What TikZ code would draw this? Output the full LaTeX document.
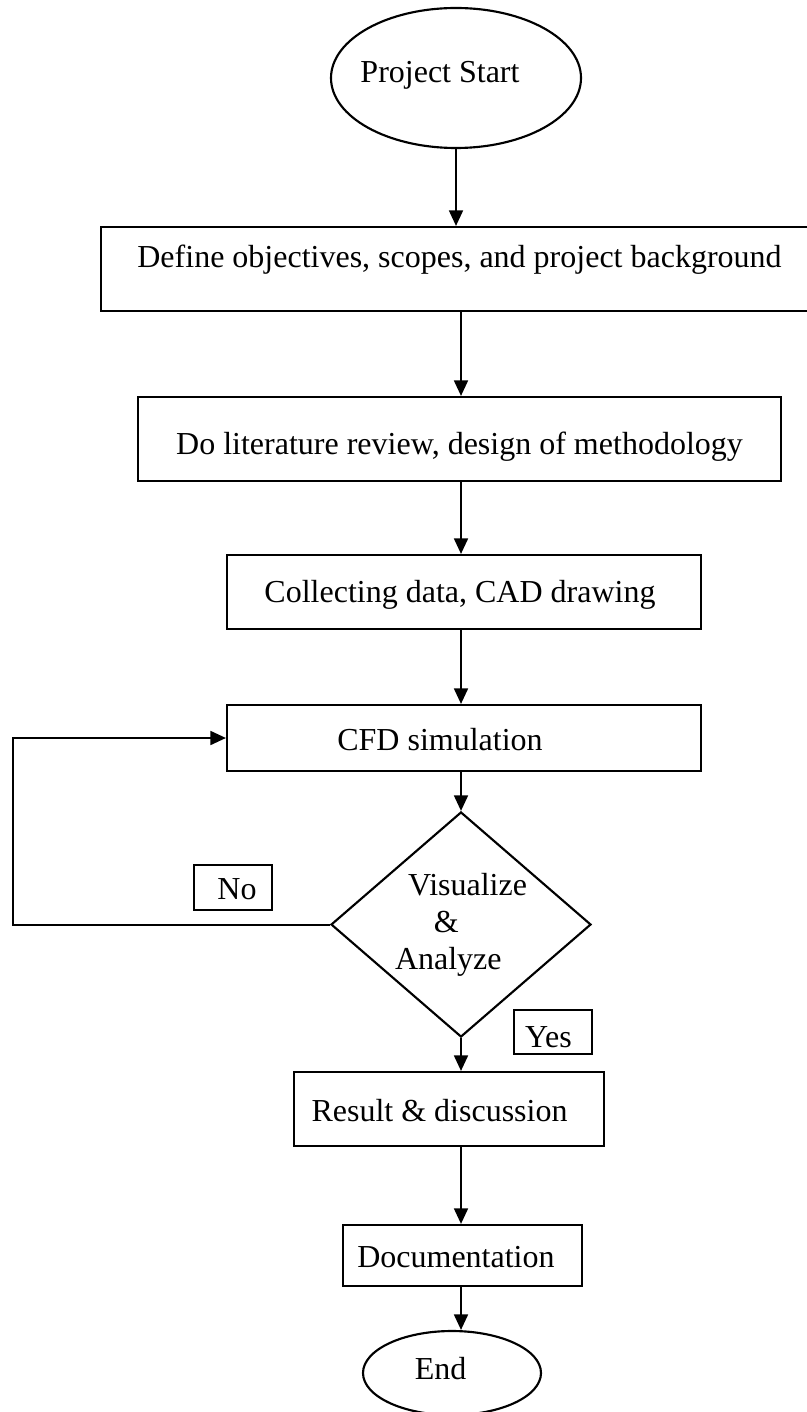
\documentclass[tikz,border=0pt]{standalone}
\usepackage{fontspec}
\setmainfont{Liberation Serif}
\usepackage{tikz}
\usetikzlibrary{arrows.meta,positioning,shapes.geometric,calc}
\tikzset{
  term/.style={ellipse, draw, line width=0.8pt, inner sep=0pt, text height=5.75pt, text depth=2pt},
  proc/.style={rectangle, draw, line width=0.8pt, inner sep=0pt, text height=11.25pt, text depth=2pt},
  decide/.style={diamond, draw, line width=0.8pt, inner sep=0pt, aspect=1.156, align=left, minimum width=97.5pt, minimum height=84.4pt},
  tag/.style={rectangle, draw, line width=0.7pt, inner sep=0pt, minimum width=29.25pt, text height=11.25pt, text depth=2pt},
  arrow/.style={-{Triangle[length=5.8pt,width=5.2pt]}, line width=0.75pt}
}

\begin{document}
\begin{tikzpicture}[x=0.375pt, y=-0.375pt, font=\fontsize{12pt}{13.9pt}\selectfont]
  \useasboundingbox (0,0) rectangle (807,1412);
  \node[term, minimum width=93.75pt, minimum height=52.5pt] (start) at (456,78) {\makebox[0pt]{Project Start\hspace*{12pt}}};
  \node[proc, minimum width=268.9pt, minimum height=31.5pt, text height=8pt, text depth=8.75pt] (define) at (459.5,269) {Define objectives, scopes, and project background};
  \node[proc, minimum width=241.1pt, minimum height=31.5pt, text height=13.25pt] (review) at (459.5,439) {Do literature review, design of methodology};
  \node[proc, minimum width=177.75pt, minimum height=27.75pt, text height=9.5pt] (collect) at (464,592) {Collecting data, CAD drawing\hspace*{3pt}};
  \node[proc, minimum width=177.75pt, minimum height=24.75pt] (cfd) at (464,738) {CFD simulation\hspace*{18pt}};
  \node[decide] (check) at (461,924.5) {\hspace*{4.9pt}Visualize\\\hspace*{14.6pt}\&\\Analyze};
  \node[tag, minimum height=16.9pt] (no) at (233,887.5) {\hspace*{3pt}No};
  \node[tag, minimum height=16.5pt, text height=13.25pt] (yes) at (553,1032) {Yes\hspace*{3.4pt}};
  \node[proc, minimum width=116.25pt, minimum height=27.75pt] (result) at (449,1109) {Result \& discussion\hspace*{7.1pt}};
  \node[proc, minimum width=89.6pt, minimum height=22.9pt] (docs) at (462.5,1255.5) {Documentation\hspace*{4.9pt}};
  \node[term, minimum width=66.75pt, minimum height=31.5pt, text height=6.5pt] (finish) at (452,1373) {\makebox[0pt]{End\hspace*{8.6pt}}};
  \coordinate (loop) at (12.7,924.5);
  % main flow
  \draw[arrow] (start.south) -- (start.south |- define.north);
  \draw[arrow] (define.south -| check) -- (review.north -| check);
  \draw[arrow] (review.south -| check) -- (collect.north -| check);
  \draw[arrow] (collect.south -| check) -- (cfd.north -| check);
  \draw[arrow] (cfd.south -| check) -- (check.north);
  \draw[arrow] (check.south) -- (result.north -| check);
  \draw[arrow] (result.south -| check) -- (docs.north -| check);
  \draw[arrow] (docs.south -| check) -- (finish.north -| check);
  % back to simulation
  \draw[arrow] (check.west) -- (loop) |- (cfd.west);
\end{tikzpicture}
\end{document}
